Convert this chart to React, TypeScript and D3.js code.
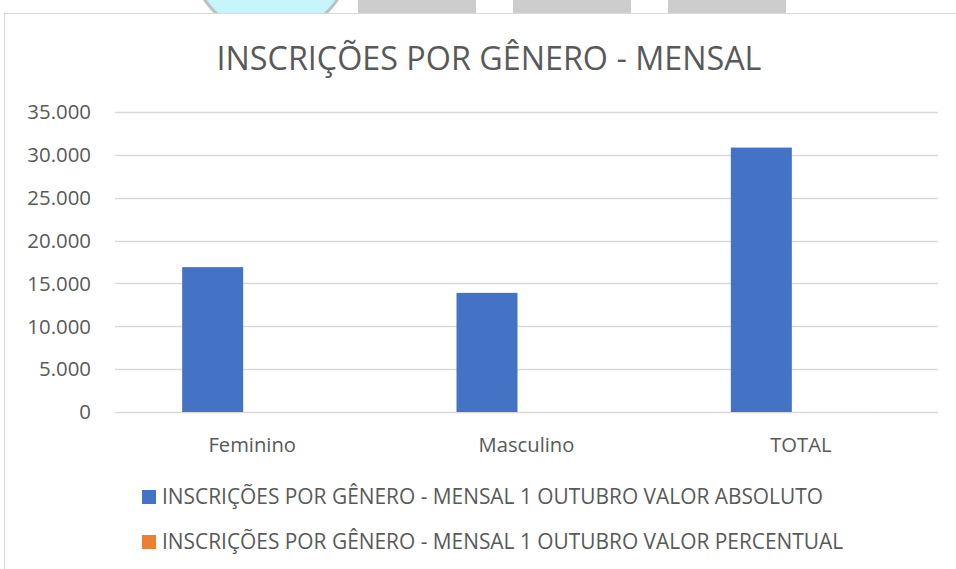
import * as d3 from "d3";
import { useEffect, useRef } from "react";

const categories = ["Feminino", "Masculino", "TOTAL"];
const seriesNames = [
  "INSCRIÇÕES POR GÊNERO - MENSAL 1 OUTUBRO VALOR ABSOLUTO",
  "INSCRIÇÕES POR GÊNERO - MENSAL 1 OUTUBRO VALOR PERCENTUAL",
];
const valorAbsoluto = [16900, 13900, 30850];
const valorPercentual = [0.549, 0.451, 1];
const yTicks = [0, 5000, 10000, 15000, 20000, 25000, 30000, 35000];
const seriesColors = ["#4472c4", "#ed7d31"];
const topBlocks = [358, 513, 668];

const W = 956;
const H = 569;
const FONT = "'Open Sans', sans-serif";

export default function App() {
  const ref = useRef<SVGSVGElement>(null);

  useEffect(() => {
    const svg = d3.select(ref.current);
    svg.selectAll("*").remove();

    // page decorations behind the chart
    svg.append("circle").attr("cx", 271).attr("cy", -45).attr("r", 80)
      .attr("fill", "#c6f4fb").attr("stroke", "#b9c3c7").attr("stroke-width", 3);
    svg.selectAll("rect.blk").data(topBlocks).join("rect")
      .attr("x", (d) => d).attr("y", 0).attr("width", 118).attr("height", 14)
      .attr("fill", "#cccccc");

    // chart area
    svg.append("rect").attr("x", 4.5).attr("y", 13.5).attr("width", 1000).attr("height", 600)
      .attr("fill", "#fff").attr("stroke", "#d9d9d9").attr("stroke-width", 1);

    const locale = d3.formatLocale({ decimal: ",", thousands: ".", grouping: [3], currency: ["R$", ""] });
    const fmt = locale.format(",d");

    const x0 = d3.scaleBand().domain(categories).range([115, 938]).padding(0);
    const x1 = d3.scaleBand().domain(["0", "1"]).range([0, x0.bandwidth()])
      .paddingInner(0.228).paddingOuter(0.85);
    const y = d3.scaleLinear().domain([0, 35000]).range([412, 112]);

    svg.append("text").attr("x", 489).attr("y", 70).attr("text-anchor", "middle")
      .attr("font-family", FONT).attr("font-size", 32.3).attr("fill", "#595959")
      .text("INSCRIÇÕES POR GÊNERO - MENSAL");

    const grid = svg.append("g");
    grid.selectAll("line").data(yTicks).join("line")
      .attr("x1", 115).attr("x2", 938)
      .attr("y1", (d) => Math.round(y(d)) + 0.5).attr("y2", (d) => Math.round(y(d)) + 0.5)
      .attr("stroke", "#d9d9d9").attr("stroke-width", 1.3);

    grid.selectAll("text").data(yTicks).join("text")
      .attr("x", 91).attr("y", (d) => y(d)).attr("dy", "0.36em")
      .attr("text-anchor", "end").attr("font-family", FONT).attr("font-size", 20.4)
      .attr("fill", "#595959").text((d) => fmt(d));

    const series = [valorAbsoluto, valorPercentual];
    series.forEach((vals, si) => {
      svg.append("g").selectAll("rect").data(vals).join("rect")
        .attr("x", (d, i) => x0(categories[i])! + x1(String(si))!)
        .attr("y", (d) => y(d))
        .attr("width", x1.bandwidth())
        .attr("height", (d) => y(0) - y(d))
        .attr("fill", seriesColors[si]);
    });

    svg.append("g").selectAll("text").data(categories).join("text")
      .attr("x", (d) => x0(d)! + x0.bandwidth() / 2).attr("y", 452)
      .attr("text-anchor", "middle").attr("font-family", FONT).attr("font-size", 20.2)
      .attr("fill", "#595959").text((d) => d);

    const leg = svg.append("g").selectAll("g").data(seriesNames).join("g")
      .attr("transform", (d, i) => `translate(142, ${490 + i * 45})`);
    leg.append("rect").attr("width", 14).attr("height", 14)
      .attr("fill", (d, i) => seriesColors[i]);
    leg.append("text").attr("x", 20).attr("y", 14).attr("font-family", FONT)
      .attr("font-size", 20.9).attr("fill", "#595959").text((d) => d);
  }, []);

  return (
    <svg ref={ref} width={W} height={H}
      style={{ position: "absolute", left: 0, top: 0, background: "#fff" }} />
  );
}
